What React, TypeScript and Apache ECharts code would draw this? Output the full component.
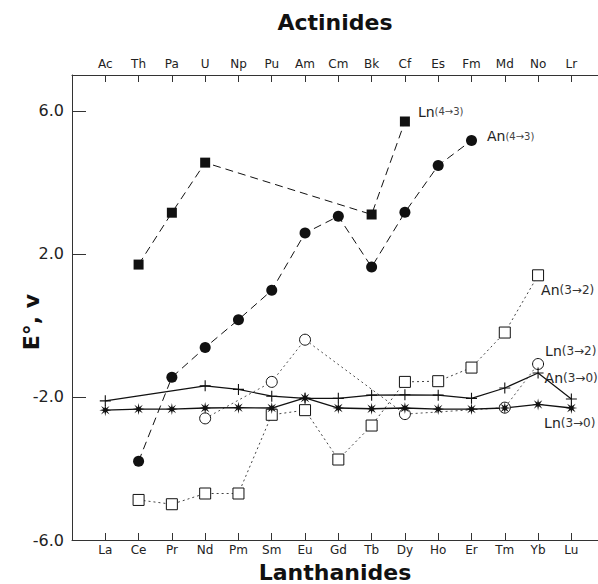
import React, { useEffect, useRef } from "react";
import * as echarts from "echarts";

const lanthanides = ["La", "Ce", "Pr", "Nd", "Pm", "Sm", "Eu", "Gd", "Tb", "Dy", "Ho", "Er", "Tm", "Yb", "Lu"];
const actinides = ["Ac", "Th", "Pa", "U", "Np", "Pu", "Am", "Cm", "Bk", "Cf", "Es", "Fm", "Md", "No", "Lr"];
const yTicks = [-6, -2, 2, 6];

// Ln(4→3), filled squares
const ln43: (number | null)[] = [null, 1.7, 3.15, 4.55, null, null, null, null, 3.1, 5.7, null, null, null, null, null];
// An(4→3), filled circles
const an43: (number | null)[] = [null, -3.8, -1.45, -0.62, 0.16, 0.98, 2.58, 3.05, 1.63, 3.16, 4.47, 5.17, null, null, null];
// An(3→2), open squares
const an32: (number | null)[] = [null, -4.88, -5.0, -4.7, -4.7, -2.5, -2.37, -3.75, -2.8, -1.58, -1.56, -1.18, -0.2, 1.4, null];
// Ln(3→2), open circles
const ln32: (number | null)[] = [null, null, null, -2.6, null, -1.58, -0.4, null, null, -2.48, null, null, -2.3, -1.08, null];
// Ln(3→0), asterisks
const ln30: (number | null)[] = [-2.37, -2.34, -2.34, -2.31, -2.3, -2.31, -2.03, -2.31, -2.33, -2.31, -2.34, -2.34, -2.31, -2.21, -2.31];
// An(3→0), plus signs
const an30: (number | null)[] = [-2.11, null, null, -1.69, -1.79, -1.98, -2.04, -2.04, -1.95, -1.94, -1.95, -2.04, -1.75, -1.33, -2.06];

const FONT = "DejaVu Sans";
const INK = "#111";
const ASTERISK =
  "path://M10 0 L11.34 6.77 L17.07 2.93 L13.23 8.66 L20 10 L13.23 11.34 L17.07 17.07 L11.34 13.23 L10 20 L8.66 13.23 L2.93 17.07 L6.77 11.34 L0 10 L6.77 8.66 L2.93 2.93 L8.66 6.77 Z";
const PLUS = "path://M9,0H11V20H9Z M0,9H20V11H0Z";

const rich = {
  a: { fontFamily: FONT, fontSize: 14, color: "#222" },
  b: { fontFamily: FONT, fontSize: 10, color: "#444" },
  c: { fontFamily: FONT, fontSize: 12, color: "#333" },
};

function build(values: (number | null)[], labelIdx: number, text: string, offset: number[]) {
  const out: any[] = [];
  values.forEach((v, i) => {
    if (v === null) return;
    const item: any = { value: [i, v] };
    if (i === labelIdx) {
      item.label = {
        show: true,
        position: "right",
        distance: 5,
        offset,
        align: "left",
        verticalAlign: "middle",
        formatter: text,
        rich,
      };
    }
    out.push(item);
  });
  return out;
}

export default function App() {
  const ref = useRef<HTMLDivElement>(null);
  useEffect(() => {
    if (!ref.current) return;
    const chart = echarts.init(ref.current, undefined, { renderer: "svg" });
    const idx = lanthanides.map((_, i) => i);
    const axisLine = { show: true, onZero: false, lineStyle: { color: "#333", width: 1 } };
    const nameStyle = { fontFamily: FONT, fontWeight: "bold" as const, fontSize: 22, color: INK };
    const xCommon = (names: string[], margin: number) => ({
      type: "value" as const,
      min: -1,
      max: 14.8,
      axisLine,
      axisTick: { show: true, inside: true, length: 7, customValues: idx, lineStyle: { color: "#333" } },
      axisLabel: {
        customValues: idx,
        formatter: (v: number) => names[v] ?? "",
        fontFamily: FONT,
        fontSize: 12,
        color: "#222",
        margin,
      },
      splitLine: { show: false },
      nameLocation: "middle" as const,
      nameTextStyle: nameStyle,
    });
    const lineSeries = (
      name: string,
      data: any[],
      xAxisIndex: number,
      symbol: string,
      symbolSize: number,
      fill: string,
      lineStyle: any
    ) => ({
      name,
      type: "line",
      xAxisIndex,
      data,
      symbol,
      symbolSize,
      showSymbol: true,
      itemStyle: { color: fill, borderColor: INK, borderWidth: fill === "#fff" ? 1 : 0 },
      lineStyle,
      z: 3,
    });
    chart.setOption({
      animation: false,
      grid: { left: 72, right: 0, top: 75, bottom: 44, containLabel: false, outerBoundsMode: "none" },
      graphic: [
        {
          type: "text",
          x: 31,
          y: 322,
          rotation: Math.PI / 2,
          style: {
            text: "E°, v",
            fontFamily: FONT,
            fontWeight: "bold",
            fontSize: 22,
            fill: INK,
            align: "center",
            verticalAlign: "middle",
          },
        },
      ],
      xAxis: [
        { ...xCommon(lanthanides, 4), position: "bottom", name: "Lanthanides", nameGap: 21 },
        { ...xCommon(actinides, 5), position: "top", name: "Actinides", nameGap: 42 },
      ],
      yAxis: {
        type: "value",
        min: -6,
        max: 7,
        axisLine,
        axisTick: { show: true, inside: true, length: 14, customValues: yTicks, lineStyle: { color: "#333" } },
        axisLabel: {
          customValues: yTicks,
          formatter: (v: number) => v.toFixed(1),
          fontFamily: FONT,
          fontSize: 16,
          color: "#222",
          margin: 8,
        },
        splitLine: { show: false },
      },
      series: [
        lineSeries("Ln(3→2)", build(ln32, 13, "{a|Ln}{c|(3→2)}", [-4, -13]), 0, "circle", 11, "#fff", {
          color: "#555",
          width: 1,
          type: [2, 3],
        }),
        lineSeries("An(3→2)", build(an32, 13, "{a|An}{c|(3→2)}", [-8, 15]), 1, "rect", 11, "#fff", {
          color: "#444",
          width: 1,
          type: [2, 3],
        }),
        lineSeries("An(4→3)", build(an43, 11, "{a|An}{b|(4→3)}", [5, -4]), 1, "circle", 11, INK, {
          color: INK,
          width: 1,
          type: [8, 5],
        }),
        lineSeries("Ln(4→3)", build(ln43, 9, "{a|Ln}{b|(4→3)}", [3, -10]), 0, "rect", 10, INK, {
          color: INK,
          width: 1,
          type: [8, 5],
        }),
        lineSeries("An(3→0)", build(an30, 13, "{a|An}{c|(3→0)}", [-4, 5]), 1, PLUS, 11, INK, {
          color: INK,
          width: 1.2,
        }),
        lineSeries("Ln(3→0)", build(ln30, 13, "{a|Ln}{c|(3→0)}", [-5, 19]), 0, ASTERISK, 12, INK, {
          color: INK,
          width: 1.3,
        }),
      ],
    });
    return () => chart.dispose();
  }, []);
  return (
    <div
      ref={ref}
      style={{ position: "fixed", left: 0, top: 0, width: 598, height: 584, background: "#fff" }}
    />
  );
}
